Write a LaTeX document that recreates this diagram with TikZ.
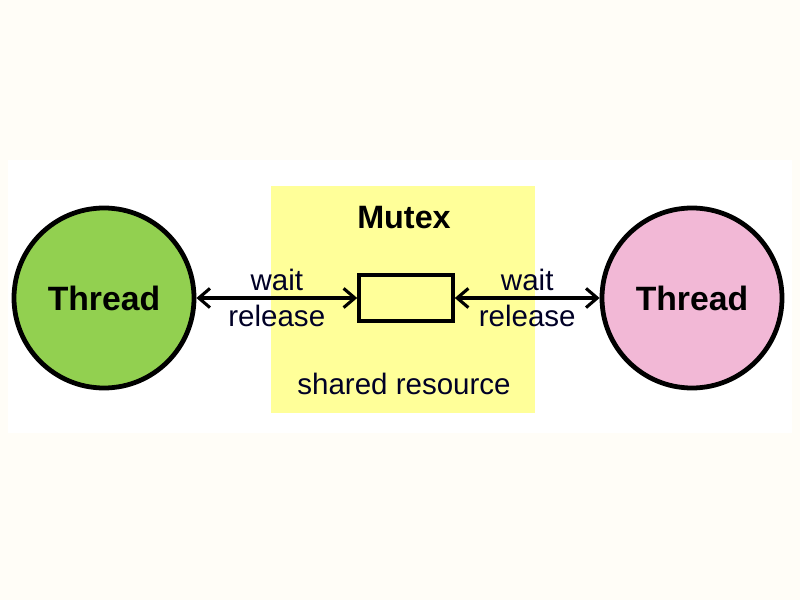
\documentclass[tikz,border=0pt]{standalone}
\usepackage{fontspec}
\setmainfont{Liberation Sans}
\usetikzlibrary{arrows.meta}
\definecolor{paper}{HTML}{FFFDF7}
\definecolor{threadgreen}{HTML}{92D050}
\definecolor{threadpink}{HTML}{F2B8D6}
\definecolor{lockyellow}{HTML}{FFFF99}
\begin{document}
\begin{tikzpicture}[
        thread/.style={shape=circle, draw, line width=3.4pt, minimum size=4.5cm, inner sep=0pt,
            font=\fontsize{24}{28}\selectfont\bfseries},
        lockbox/.style={shape=rectangle, draw, line width=2.6pt, fill=lockyellow,
            minimum width=2.35cm, minimum height=1.15cm},
        link/.style={{Straight Barb[length=2.8mm,width=4.8mm]}-{Straight Barb[length=2.8mm,width=4.8mm]},
            line width=2.2pt},
        tag/.style={font=\fontsize{21}{24}\selectfont, text=black!85!blue, inner sep=1pt}
    ]
    \useasboundingbox[fill=paper] (0,0) rectangle (20,15);
    \fill[white] (0.2,4.175) rectangle (19.8,11);
    \fill[lockyellow] (6.775,4.675) rectangle (13.375,10.35);

    \node[thread, fill=threadgreen] (left) at (2.6,7.55) {Thread};
    \node[thread, fill=threadpink] (right) at (17.3,7.55) {Thread};
    \node[lockbox] (mtx) at (10.15,7.55) {};

    \node[tag, font=\fontsize{23}{28}\selectfont\bfseries, text=black] (title) at (10.1,9.55) {Mutex};
    \node[tag] (res) at (10.1,5.4) {shared resource};

    \draw[link] (left) -- node[tag, above=3pt] {wait} node[tag, below=3pt] {release} (mtx);
    \draw[link] (mtx) -- node[tag, above=3pt] {wait} node[tag, below=3pt] {release} (right);
\end{tikzpicture}
\end{document}
